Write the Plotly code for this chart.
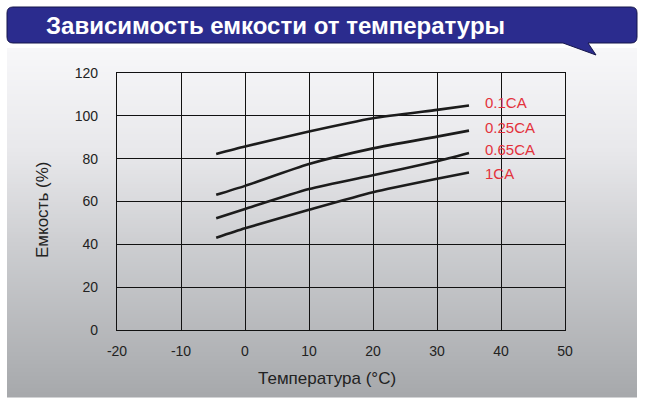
import plotly.graph_objects as go

# ---- data ----
temperature = [-4.5, 0, 10, 20, 30, 35]
cap_01CA = [82.2, 85.7, 92.7, 98.9, 102.8, 104.8]
cap_025CA = [63.1, 67.3, 77.5, 84.8, 90.3, 93.1]
cap_065CA = [52.2, 56.5, 65.8, 72.3, 78.8, 82.6]
cap_1CA = [43.1, 47.5, 56.1, 64.3, 70.6, 73.5]
series_names = ["0.1CA", "0.25CA", "0.65CA", "1CA"]
label_y = [106.2, 94.5, 84.4, 73.2]
label_x = 37.2
x_ticks = [-20, -10, 0, 10, 20, 30, 40, 50]
x_tick_labels = ["-20", "-10", "0", "10", "20", "30", "40", "50"]
y_ticks = [0, 20, 40, 60, 80, 100, 120]
title_text = "Зависимость емкости от температуры"
x_title = "Температура (°C)"
y_title = "Емкость (%)"

W, H = 645, 404
L, R, T, B = 117, 565, 73, 330  # plot area in px


def px(x):
    return (x - L) / (R - L)


def py(y):
    return (B - y) / (B - T)


fig = go.Figure()
for name, vals in zip(series_names, [cap_01CA, cap_025CA, cap_065CA, cap_1CA]):
    fig.add_trace(go.Scatter(x=temperature, y=vals, mode="lines", name=name,
                             line=dict(color="#1c1c1c", width=2.6, shape="spline", smoothing=0.6),
                             showlegend=False, hoverinfo="skip"))

shapes = []
# background gradient panel
stops = [(48, (247, 247, 249)), (150, (232, 232, 235)), (250, (203, 204, 207)), (397, (166, 168, 171))]


def col_at(y):
    for (y0, c0), (y1, c1) in zip(stops[:-1], stops[1:]):
        if y0 <= y <= y1:
            t = (y - y0) / (y1 - y0)
            return "rgb(%d,%d,%d)" % tuple(round(a + (b - a) * t) for a, b in zip(c0, c1))
    return "rgb(%d,%d,%d)" % stops[-1][1]


y = 48
step = 2
while y < 397:
    y2 = min(y + step, 397)
    shapes.append(dict(type="rect", xref="paper", yref="paper", layer="below",
                       x0=px(7), x1=px(637), y0=py(y), y1=py(y2 + 0.5),
                       fillcolor=col_at(y), line=dict(width=0)))
    y = y2

# banner with tail
bx0, bx1, by0, by1, r = 7, 637, 7, 43, 6
path = (f"M {px(bx0 + r)} {py(by0)} L {px(bx1 - r)} {py(by0)} "
        f"Q {px(bx1)} {py(by0)} {px(bx1)} {py(by0 + r)} L {px(bx1)} {py(by1 - r)} "
        f"Q {px(bx1)} {py(by1)} {px(bx1 - r)} {py(by1)} "
        f"L {px(588)} {py(by1)} L {px(596)} {py(55)} L {px(563)} {py(by1)} "
        f"L {px(bx0 + r)} {py(by1)} Q {px(bx0)} {py(by1)} {px(bx0)} {py(by1 - r)} "
        f"L {px(bx0)} {py(by0 + r)} Q {px(bx0)} {py(by0)} {px(bx0 + r)} {py(by0)} Z")
shapes.append(dict(type="path", xref="paper", yref="paper", layer="above", path=path,
                   fillcolor="#2b2c8e", line=dict(color="#15154a", width=1)))

annotations = [
    dict(text=f"<b>{title_text}</b>", xref="paper", yref="paper", x=px(44), y=py(25),
         xanchor="left", yanchor="middle", showarrow=False,
         font=dict(family="Liberation Sans, Arial", size=24, color="white")),
    dict(text=x_title, xref="paper", yref="paper", x=px(327), y=py(378),
         xanchor="center", yanchor="middle", showarrow=False,
         font=dict(family="Liberation Sans, Arial", size=17, color="#222")),
    dict(text=y_title, xref="paper", yref="paper", x=px(42), y=py(210), textangle=-90,
         xanchor="center", yanchor="middle", showarrow=False,
         font=dict(family="Liberation Sans, Arial", size=17, color="#222")),
]
for name, ly in zip(series_names, label_y):
    annotations.append(dict(text=name, x=label_x, y=ly, xref="x", yref="y",
                            xanchor="left", yanchor="middle", showarrow=False,
                            font=dict(family="Liberation Sans, Arial", size=15, color="#e3323c")))

axis_common = dict(showgrid=True, gridcolor="#111", gridwidth=1.3, zeroline=False,
                   showline=True, linecolor="#111", linewidth=1.3, mirror=True,
                   ticks="", tickfont=dict(family="Liberation Sans, Arial", size=14, color="#222"))

fig.update_layout(
    width=W, height=H, autosize=False,
    margin=dict(l=L, r=W - R, t=T, b=H - B, pad=0),
    paper_bgcolor="white", plot_bgcolor="#f3f3f5",
    xaxis=dict(range=[-20, 50], tickvals=x_ticks, ticktext=x_tick_labels,
               ticklabelstandoff=8, **axis_common),
    yaxis=dict(range=[0, 120], tickvals=y_ticks, ticklabelstandoff=15, **axis_common),
    shapes=shapes, annotations=annotations,
)

fig.write_html("out.html")
